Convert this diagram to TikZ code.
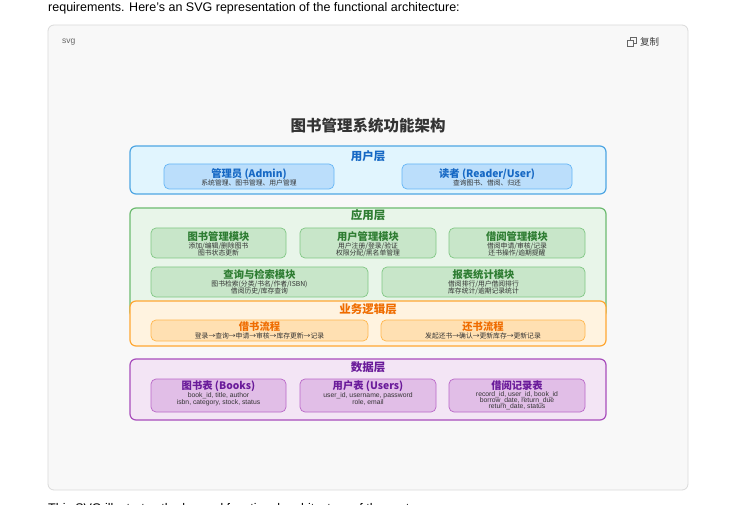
\documentclass[tikz,border=0pt]{standalone}
\usepackage{fontspec}
\setmainfont{Liberation Sans}
\newfontfamily\cjk{Noto Sans CJK SC}
\usepackage{tikz}
\definecolor{cCard}{HTML}{F8F8F8}
\definecolor{cCardLine}{HTML}{DADADA}
\definecolor{cDesc}{HTML}{333333}
\definecolor{cUsrFill}{HTML}{E1F5FE}
\definecolor{cUsrLine}{HTML}{4FA6E3}
\definecolor{cUsrBox}{HTML}{BBDEFB}
\definecolor{cUsrBoxLine}{HTML}{64B5F6}
\definecolor{cUsrText}{HTML}{1668C4}
\definecolor{cAppFill}{HTML}{E8F5E9}
\definecolor{cAppLine}{HTML}{6DBB70}
\definecolor{cAppBox}{HTML}{C8E6C9}
\definecolor{cAppBoxLine}{HTML}{81C784}
\definecolor{cAppText}{HTML}{2E7D32}
\definecolor{cBizFill}{HTML}{FFF3E0}
\definecolor{cBizLine}{HTML}{FFA733}
\definecolor{cBizBox}{HTML}{FFE0B2}
\definecolor{cBizBoxLine}{HTML}{FFB74D}
\definecolor{cBizText}{HTML}{EF6C00}
\definecolor{cDatFill}{HTML}{F3E5F5}
\definecolor{cDatLine}{HTML}{A84DBC}
\definecolor{cDatBox}{HTML}{E1BEE7}
\definecolor{cDatBoxLine}{HTML}{BA68C8}
\definecolor{cDatText}{HTML}{6A1B9A}
\tikzset{
  layerbox/.style={line width=1.2pt, rounded corners=6pt},
  modbox/.style={line width=0.7pt, rounded corners=5pt},
  laytitle/.style={font=\cjk\bfseries\fontsize{11.5}{12}\selectfont, inner sep=0pt},
  modtitle/.style={font=\cjk\bfseries\fontsize{10.3}{11}\selectfont, inner sep=0pt},
  moddesc/.style={font=\cjk\fontsize{6.8}{7}\selectfont, text=cDesc, inner sep=0pt},
  fielddesc/.style={font=\fontsize{6.8}{7}\selectfont, text=cDesc, inner sep=0pt},
}

\begin{document}
\begin{tikzpicture}[x=1pt, y=-1pt]
  \useasboundingbox[fill=white] (0,0) rectangle (750,505);
  % page text and code card
  \node[anchor=base west, inner sep=0pt, font=\fontsize{12.5}{14}\selectfont] (intro) at (48,12)
    {requirements. Here's an SVG representation of the functional architecture:};
  \filldraw[fill=cCard, draw=cCardLine, line width=0.8pt, rounded corners=6pt]
    (48,25) rectangle (688,490);
  \node[anchor=west, inner sep=0pt, text=black!60, font=\fontsize{8.5}{9}\selectfont] (lang) at (62,42) {svg};
  \draw[black!60, line width=0.6pt] (630,37.5) rectangle (636,43.5);
  \filldraw[fill=cCard, draw=black!60, line width=0.6pt] (627.5,40) rectangle (633.5,46);
  \node[anchor=west, inner sep=0pt, text=black!75, font=\cjk\fontsize{9.5}{10}\selectfont] (copy) at (640,42) {复制};
  \node[anchor=base west, inner sep=0pt, font=\fontsize{12.5}{14}\selectfont] (outro) at (48,512.5)
    {This SVG illustrates the layered functional architecture of the system};
  % title
  \node[font=\cjk\bfseries\fontsize{15.5}{16}\selectfont, text=black!80, inner sep=0pt] (title) at (368,126)
    {图书管理系统功能架构};

  % user layer
  \filldraw[layerbox, fill=cUsrFill, draw=cUsrLine] (130,146) rectangle (606,194);
  \node[laytitle, text=cUsrText] (usrlay) at (368,156.5) {用户层};
  \filldraw[modbox, fill=cUsrBox, draw=cUsrBoxLine] (164,164) rectangle (334,189);
  \filldraw[modbox, fill=cUsrBox, draw=cUsrBoxLine] (402,164) rectangle (572,189);
  \node[modtitle, text=cUsrText] (admin) at (249,174) {管理员 (Admin)};
  \node[moddesc] (admind) at (249,183) {系统管理、图书管理、用户管理};
  \node[modtitle, text=cUsrText] (reader) at (487,174) {读者 (Reader/User)};
  \node[moddesc] (readerd) at (487,183) {查询图书、借阅、归还};

  % application layer
  \filldraw[layerbox, fill=cAppFill, draw=cAppLine] (130,208) rectangle (606,318);
  \node[laytitle, text=cAppText] (applay) at (368,215.5) {应用层};
  \foreach \xa/\xb in {151/286, 300/436, 449/585}{%
    \filldraw[modbox, fill=cAppBox, draw=cAppBoxLine] (\xa,228) rectangle (\xb,258);
  }
  \filldraw[modbox, fill=cAppBox, draw=cAppBoxLine] (151,267) rectangle (368,297);
  \filldraw[modbox, fill=cAppBox, draw=cAppBoxLine] (382,267) rectangle (585,297);
  \node[modtitle, text=cAppText] (bookmod) at (218.5,237) {图书管理模块};
  \node[moddesc] (bookmoda) at (218.5,246) {添加/编辑/删除图书};
  \node[moddesc] (bookmodb) at (218.5,253) {图书状态更新};
  \node[modtitle, text=cAppText] (usermod) at (368,237) {用户管理模块};
  \node[moddesc] (usermoda) at (368,246) {用户注册/登录/验证};
  \node[moddesc] (usermodb) at (368,253) {权限分配/黑名单管理};
  \node[modtitle, text=cAppText] (lendmod) at (517,237) {借阅管理模块};
  \node[moddesc] (lendmoda) at (517,246) {借阅申请/审核/记录};
  \node[moddesc] (lendmodb) at (517,253) {还书操作/逾期提醒};
  \node[modtitle, text=cAppText] (findmod) at (259.5,274.5) {查询与检索模块};
  \node[moddesc] (findmoda) at (259.5,284) {图书检索(分类/书名/作者/ISBN)};
  \node[moddesc] (findmodb) at (259.5,291) {借阅历史/库存查询};
  \node[modtitle, text=cAppText] (statmod) at (483.5,274.5) {报表统计模块};
  \node[moddesc] (statmoda) at (483.5,284) {借阅排行/用户借阅排行};
  \node[moddesc] (statmodb) at (483.5,291) {库存统计/逾期记录统计};

  % business logic layer
  \filldraw[layerbox, fill=cBizFill, draw=cBizLine] (130,301) rectangle (606,346);
  \node[laytitle, text=cBizText] (bizlay) at (368,309.5) {业务逻辑层};
  \filldraw[modbox, fill=cBizBox, draw=cBizBoxLine] (151,320) rectangle (368,341);
  \filldraw[modbox, fill=cBizBox, draw=cBizBoxLine] (381,320) rectangle (585,341);
  \node[modtitle, text=cBizText] (lendflow) at (259.5,327) {借书流程};
  \node[moddesc] (lendflowd) at (259.5,335.5) {登录→查询→申请→审核→库存更新→记录};
  \node[modtitle, text=cBizText] (backflow) at (483,327) {还书流程};
  \node[moddesc] (backflowd) at (483,335.5) {发起还书→确认→更新库存→更新记录};

  % data layer
  \filldraw[layerbox, fill=cDatFill, draw=cDatLine] (130,359) rectangle (606,420);
  \node[laytitle, text=cDatText] (datlay) at (368,367) {数据层};
  \foreach \xa/\xb in {151/286, 300/436, 449/585}{%
    \filldraw[modbox, fill=cDatBox, draw=cDatBoxLine] (\xa,379) rectangle (\xb,412);
  }
  \node[modtitle, text=cDatText] (booktab) at (218.5,386.5) {图书表 (Books)};
  \node[fielddesc] (booktaba) at (218.5,396) {book\_id, title, author};
  \node[fielddesc] (booktabb) at (218.5,402.5) {isbn, category, stock, status};
  \node[modtitle, text=cDatText] (usertab) at (368,386.5) {用户表 (Users)};
  \node[fielddesc] (usertaba) at (368,396) {user\_id, username, password};
  \node[fielddesc] (usertabb) at (368,402.5) {role, email};
  \node[modtitle, text=cDatText] (lendtab) at (517,386) {借阅记录表};
  \node[fielddesc] (lendtaba) at (517,394.5) {record\_id, user\_id, book\_id};
  \node[fielddesc] (lendtabb) at (517,400.5) {borrow\_date, return\_due};
  \node[fielddesc] (lendtabc) at (517,406.5) {return\_date, status};
\end{tikzpicture}
\end{document}
